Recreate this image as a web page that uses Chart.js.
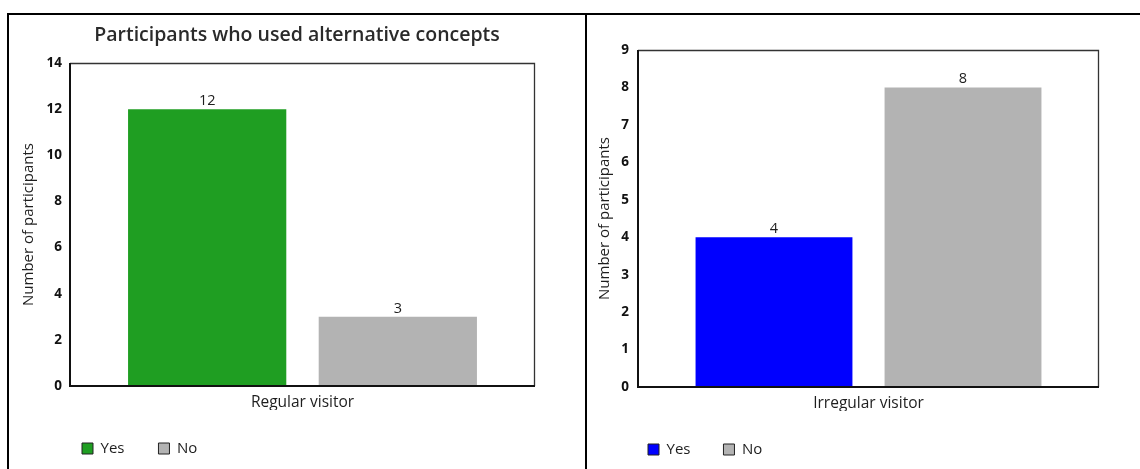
<!DOCTYPE html>
<html>
<head>
<meta charset="utf-8">
<script src="https://cdn.jsdelivr.net/npm/chart.js@4.4.1/dist/chart.umd.min.js"></script>
<style>
  html, body { margin: 0; padding: 0; background: #fff; }
  body { width: 1140px; height: 469px; position: relative; overflow: hidden; }
  .line { position: absolute; background: #000; }
  .wrap { position: absolute; }
</style>
</head>
<body>
<div class="line" style="left:7px; top:13px; width:1133px; height:2px;"></div>
<div class="line" style="left:7px; top:13px; width:2px; height:456px;"></div>
<div class="line" style="left:585px; top:13px; width:2px; height:456px;"></div>

<div class="wrap" style="left:10px; top:15px; width:574px; height:454px;"><canvas id="c1" width="574" height="454"></canvas></div>
<div class="wrap" style="left:587px; top:15px; width:553px; height:454px;"><canvas id="c2" width="553" height="454"></canvas></div>

<script>
// ---- data ----
const seriesNames = ['Yes', 'No'];
const regularCategories = ['Regular visitor'];
const regularYes = [12];
const regularNo = [3];
const irregularCategories = ['Irregular visitor'];
const irregularYes = [4];
const irregularNo = [8];
const chartTitle = 'Participants who used alternative concepts';
const yAxisTitle = 'Number of participants';

const FONT = '"Open Sans", "Noto Sans", sans-serif';
const TEXT = '#1e1e1e';
const LEGEND_SIZE = 15;

// measure legend text so both legend items sit at the reference spacing
const mctx = document.createElement('canvas').getContext('2d');
mctx.font = LEGEND_SIZE + 'px ' + FONT;
const yesW = mctx.measureText('Yes').width;

const borderPlugin = {
  id: 'plotFrame',
  afterDatasetsDraw(chart) {
    const {ctx, chartArea: a} = chart;
    ctx.save();
    ctx.strokeStyle = '#333';
    ctx.lineWidth = 1.3;
    ctx.beginPath();
    ctx.moveTo(a.left, a.top + 0.5);
    ctx.lineTo(a.right - 0.5, a.top + 0.5);
    ctx.lineTo(a.right - 0.5, a.bottom);
    ctx.stroke();
    ctx.strokeStyle = '#111';
    ctx.lineWidth = 2;
    ctx.beginPath();
    ctx.moveTo(a.left, a.top);
    ctx.lineTo(a.left, a.bottom);
    ctx.lineTo(a.right, a.bottom);
    ctx.stroke();
    // value labels
    ctx.fillStyle = TEXT;
    ctx.font = '14.5px ' + FONT;
    ctx.textAlign = 'center';
    ctx.textBaseline = 'alphabetic';
    chart.data.datasets.forEach((ds, di) => {
      const meta = chart.getDatasetMeta(di);
      meta.data.forEach((el, i) => {
        ctx.fillText(String(ds.data[i]), el.x, el.y - 4);
      });
    });
    ctx.restore();
  }
};

function makeChart(id, cfg) {
  const pad = Math.round(cfg.legendGap - 11 - LEGEND_SIZE / 2 - yesW);
  const legendH = LEGEND_SIZE + pad + 10;
  const xAxisH = cfg.below - legendH;
  const placeBlocks = {
    id: 'placeBlocks',
    afterLayout(chart) {
      chart.legend.left = cfg.legendX - pad;
      chart.legend.top = cfg.legendY - pad - (LEGEND_SIZE - 11) / 2;
      if (chart.titleBlock) {
        chart.titleBlock.left = 0;
        chart.titleBlock.right = chart.width;
      }
    }
  };
  return new Chart(document.getElementById(id), {
    type: 'bar',
    data: {
      labels: cfg.categories,
      datasets: [
        { label: seriesNames[0], data: cfg.yes, backgroundColor: cfg.yesColor, borderWidth: 0 },
        { label: seriesNames[1], data: cfg.no, backgroundColor: '#b3b3b3', borderWidth: 0 }
      ]
    },
    options: {
      responsive: false,
      animation: false,
      categoryPercentage: 0.82,
      barPercentage: 0.83,
      layout: { padding: { left: 0, right: cfg.padRight, top: cfg.padTop, bottom: 0 } },
      plugins: {
        title: {
          display: !!cfg.title,
          text: cfg.title || '',
          color: '#2a2a2a',
          font: { family: FONT, size: 19.5, weight: '600' },
          padding: { top: 8.3, bottom: 16.3 }
        },
        legend: {
          position: 'bottom',
          align: 'start',
          labels: {
            boxWidth: 11,
            boxHeight: 11,
            padding: pad,
            color: TEXT,
            font: { family: FONT, size: LEGEND_SIZE },
            generateLabels() {
              return [
                { text: seriesNames[0], fillStyle: cfg.yesColor, strokeStyle: '#222', lineWidth: 1, hidden: false, datasetIndex: 0, fontColor: TEXT },
                { text: seriesNames[1], fillStyle: '#b3b3b3', strokeStyle: '#222', lineWidth: 1, hidden: false, datasetIndex: 1, fontColor: TEXT }
              ];
            }
          }
        },
        tooltip: { enabled: false }
      },
      scales: {
        x: {
          grid: { display: false, drawTicks: false },
          border: { display: false },
          ticks: { color: TEXT, font: { family: FONT, size: 15.5 }, padding: cfg.xTickPad },
          afterFit(s) { s.height = xAxisH; }
        },
        y: {
          min: 0,
          max: cfg.yMax,
          grid: { display: false, drawTicks: false },
          border: { display: false },
          ticks: { stepSize: cfg.step, color: '#111', font: { family: FONT, size: 13.5, weight: 'bold' }, padding: cfg.yTickPad },
          title: {
            display: true,
            text: yAxisTitle,
            color: TEXT,
            font: { family: FONT, size: 15 },
            padding: { top: cfg.yTitlePad, bottom: 0 }
          },
          afterFit(s) { s.width = cfg.yAxisW; }
        }
      }
    },
    plugins: [borderPlugin, placeBlocks]
  });
}

makeChart('c1', {
  categories: regularCategories, yes: regularYes, no: regularNo, yesColor: '#1f9e22',
  title: chartTitle, yMax: 14, step: 2,
  padRight: 49, padTop: 0, below: 83, yAxisW: 60, yTitlePad: 10, yTickPad: 8, xTickPad: 7.7,
  legendX: 72, legendY: 428, legendGap: 76
});

makeChart('c2', {
  categories: irregularCategories, yes: irregularYes, no: irregularNo, yesColor: '#0000ff',
  title: null, yMax: 9, step: 1,
  padRight: 41, padTop: 35, below: 82, yAxisW: 51, yTitlePad: 9, yTickPad: 9, xTickPad: 7.2,
  legendX: 61, legendY: 429, legendGap: 75.6
});
</script>
</body>
</html>
